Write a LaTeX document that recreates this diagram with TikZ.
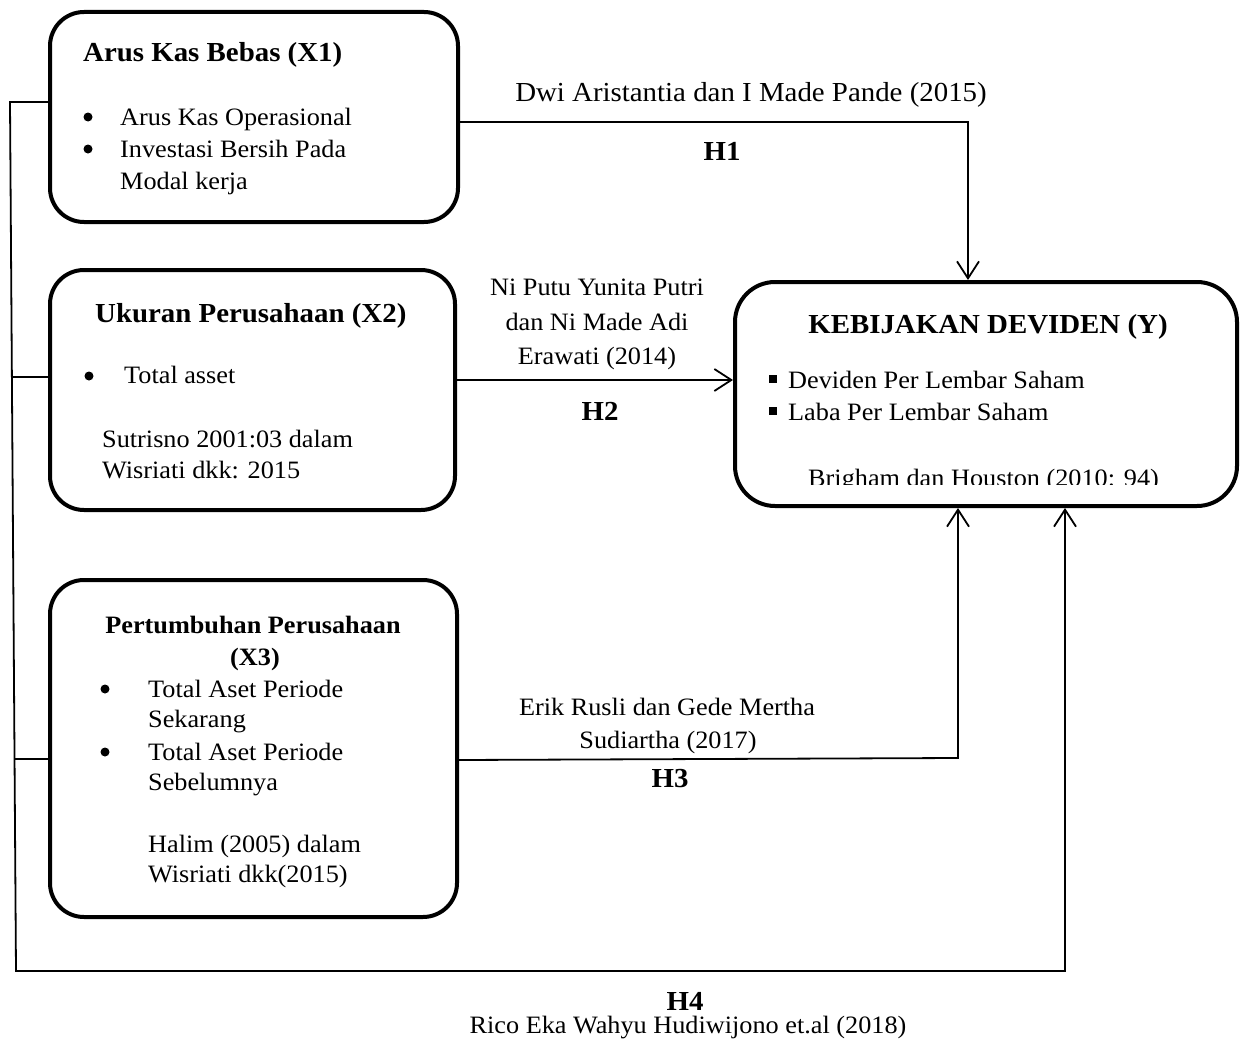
\documentclass[tikz,border=0pt]{standalone}
\usepackage{fontspec}
\setmainfont[FakeStretch=1.05]{Liberation Serif}
\usetikzlibrary{arrows.meta}
\tikzset{
  box/.style={draw, line width=4pt, rounded corners=34pt, inner sep=0pt},
  conn/.style={line width=1.8pt},
  tip/.style={-{Straight Barb[length=17pt,width=22pt,line width=1.8pt]}},
  body/.style={inner sep=0pt, font=\fontsize{25}{31}\selectfont},
  big/.style={inner sep=0pt, font=\fontsize{27.5}{32}\selectfont},
  ttl/.style={inner sep=0pt, font=\fontsize{27.5}{32}\selectfont\bfseries},
  ttls/.style={inner sep=0pt, font=\fontsize{25}{31}\selectfont\bfseries},
  sq/.style={fill, inner sep=0pt, minimum size=8pt},
  dot/.style={circle, fill, inner sep=0pt, minimum size=9pt},
}
\begin{document}
\begin{tikzpicture}[x=1pt,y=-1pt]
\useasboundingbox[fill=white] (0,0) rectangle (1240,1041);

% boxes
\node[box, minimum width=408pt, minimum height=210pt] (x1) at (254,117) {};
\node[box, minimum width=405pt, minimum height=240pt] (x2) at (252.5,390) {};
\node[box, minimum width=407pt, minimum height=337pt] (x3) at (253.5,748.5) {};
\node[box, minimum width=502pt, minimum height=224pt, rounded corners=40pt] (yb) at (986,394) {};

% X1 text
\node[ttl, anchor=base west] (x1t) at (83,62) {Arus Kas Bebas (X1)};
\node[dot] (x1b1) at (88,117) {};
\node[body, anchor=base west] (x1l1) at (120,125) {Arus Kas Operasional};
\node[dot] (x1b2) at (88,149) {};
\node[body, anchor=base west] (x1l2) at (120,157) {Investasi Bersih Pada};
\node[body, anchor=base west] (x1l3) at (120,189) {Modal kerja};

% X2 text
\node[ttl, anchor=base west] (x2t) at (95,322) {Ukuran Perusahaan (X2)};
\node[dot] (x2b1) at (89,376) {};
\node[body, anchor=base west] (x2l1) at (124,383) {Total asset};
\node[body, anchor=base west] (x2l2) at (102,447) {Sutrisno 2001:03 dalam};
\node[body, anchor=base west] (x2l3) at (102,478) {Wisriati dkk: 2015};

% X3 text
\node[ttls, anchor=base] (x3t1) at (253,633) {Pertumbuhan Perusahaan};
\node[ttls, anchor=base] (x3t2) at (255,665) {(X3)};
\node[dot] (x3b1) at (105,689) {};
\node[body, anchor=base west] (x3l1) at (148,697) {Total Aset Periode};
\node[body, anchor=base west] (x3l2) at (148,727) {Sekarang};
\node[dot] (x3b2) at (105,752) {};
\node[body, anchor=base west] (x3l3) at (148,760) {Total Aset Periode};
\node[body, anchor=base west] (x3l4) at (148,790) {Sebelumnya};
\node[body, anchor=base west] (x3l5) at (148,852) {Halim (2005) dalam};
\node[body, anchor=base west] (x3l6) at (148,882) {Wisriati dkk(2015)};

% Y text
\node[ttl, anchor=base] (yt) at (988,333) {KEBIJAKAN DEVIDEN (Y)};
\node[sq] (ys1) at (773,379) {};
\node[body, anchor=base west] (yl1) at (788,388) {Deviden Per Lembar Saham};
\node[sq] (ys2) at (773,411) {};
\node[body, anchor=base west] (yl2) at (788,420) {Laba Per Lembar Saham};
\begin{scope}
\clip (740,440) rectangle (1230,484);
\node[body, anchor=base west] (yl3) at (808,486) {Brigham dan Houston (2010: 94)};
\end{scope}

% connector labels
\node[big, anchor=base] (l1) at (751,102) {Dwi Aristantia dan I Made Pande (2015)};
\node[ttl, anchor=base] (h1) at (722,160) {H1};
\node[body, anchor=base] (l2a) at (597,295) {Ni Putu Yunita Putri};
\node[body, anchor=base] (l2b) at (597,330) {dan Ni Made Adi};
\node[body, anchor=base] (l2c) at (597,364) {Erawati (2014)};
\node[ttl, anchor=base] (h2) at (600,420) {H2};
\node[body, anchor=base] (l3a) at (667,715) {Erik Rusli dan Gede Mertha};
\node[body, anchor=base] (l3b) at (668,748) {Sudiartha (2017)};
\node[ttl, anchor=base] (h3) at (670,787) {H3};
\node[ttl, anchor=base] (h4) at (685,1010) {H4};
\node[body, anchor=base] (l4) at (688,1033) {Rico Eka Wahyu Hudiwijono et.al (2018)};

% connectors
\coordinate (c1) at (968,122);
\draw[conn,tip] (x1.east |- c1) -- (c1) -- (yb.north -| c1);
\coordinate (c2) at (600,380);
\draw[conn,tip] (x2.east |- c2) -- (yb.west |- c2);
\coordinate (c3a) at (457,760);
\coordinate (c3) at (958,758);
\draw[conn,tip] (x3.east |- c3a) -- (c3) -- (yb.south -| c3);
\coordinate (lt) at (10,102);
\coordinate (lb) at (16,971);
\coordinate (c4) at (1065,971);
\draw[conn,tip] (x1.west |- lt) -- (lt) -- (lb) -- (c4) -- (yb.south -| c4);
\coordinate (t2) at (12,377);
\coordinate (t3) at (15,759);
\draw[conn] (t2) -- (x2.west |- t2);
\draw[conn] (t3) -- (x3.west |- t3);
\end{tikzpicture}
\end{document}
